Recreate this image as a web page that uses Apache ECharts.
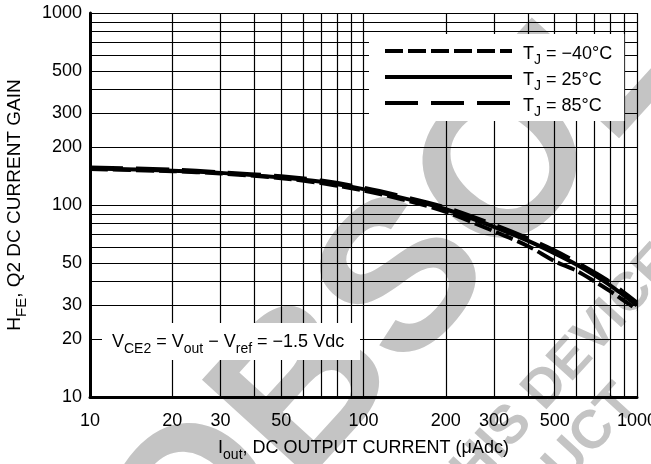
<!DOCTYPE html>
<html><head><meta charset="utf-8">
<script src="https://cdn.jsdelivr.net/npm/echarts@6/dist/echarts.min.js"></script>
<style>html,body{margin:0;padding:0;background:#fff}#c{width:651px;height:464px}</style>
</head><body><div id="c"></div>
<script>
// ---- data ----
const current = [10, 20, 30, 50, 70, 100, 150, 200, 300, 400, 500, 600, 700, 800, 1000];
const hfeM40 = [154, 150, 146, 138, 130, 119, 104, 92, 73, 61, 51, 45.5, 40, 35.5, 28.5];
const hfe25  = [155, 151, 147, 139, 132, 121, 106, 95, 77, 65, 56, 49, 43, 38, 30];
const hfe85  = [157, 153, 148, 141, 134, 123, 108, 97, 79, 67, 58, 50.5, 44.5, 39.5, 31];
const xGridValues = [10, 20, 30, 40, 50, 60, 70, 80, 90, 100, 200, 300, 400, 500, 600, 700, 800, 900, 1000];
const yGridValues = [10, 20, 30, 40, 50, 60, 70, 80, 90, 100, 200, 300, 400, 500, 600, 700, 800, 900, 1000];
const xTickLabels = [10, 20, 30, 50, 100, 200, 300, 500, 1000];
const yTickLabels = [10, 20, 30, 50, 100, 200, 300, 500, 1000];
const seriesNames = ['TJ = -40°C', 'TJ = 25°C', 'TJ = 85°C'];
const legendTexts = ['{f|T}{s|J}{a| = −40°C}', '{f|T}{s|J}{a| = 25°C}', '{f|T}{s|J}{a| = 85°C}'];

const FONT = "'Liberation Sans', Arial, Helvetica, sans-serif";
const toXY = (xs, ys) => xs.map((x, i) => [x, ys[i]]);

function gridLines(values, labels, axisKey, dist) {
  return values.map(v => {
    const item = {};
    item[axisKey] = v;
    const isLab = labels.indexOf(v) >= 0;
    item.label = isLab ? { show: true, position: 'start', distance: dist, color: '#000',
      fontSize: 18, fontFamily: FONT, formatter: String(v) } : { show: false };
    return item;
  });
}

const subRich = {
  a: { fontSize: 18, lineHeight: 18, fontFamily: FONT, color: '#000', verticalAlign: 'top' },
  s: { fontSize: 14, lineHeight: 14, fontFamily: FONT, color: '#000', padding: [9, 0, 0, 0], verticalAlign: 'top' }
};
const yRich = {
  a: { fontSize: 19, lineHeight: 19, fontFamily: FONT, color: '#000', verticalAlign: 'top' },
  s: { fontSize: 15, lineHeight: 15, fontFamily: FONT, color: '#000', padding: [9, 0, 0, 0], verticalAlign: 'top' }
};

const chart = echarts.init(document.getElementById('c'), null, { renderer: 'canvas' });
const markBase = { symbol: ['none', 'none'], silent: true, animation: false, precision: 0 };

chart.setOption({
  animation: false,
  backgroundColor: '#fff',
  grid: { left: 90, right: 14, top: 13, bottom: 67, containLabel: false, outerBoundsMode: 'none' },
  xAxis: {
    type: 'log', logBase: 10, min: 10, max: 1000,
    axisLine: { show: true, onZero: false, lineStyle: { color: '#000', width: 3 } },
    axisTick: { show: false }, axisLabel: { show: false }, splitLine: { show: false },
    name: '{a|I}{s|out}{a|, DC OUTPUT CURRENT (μAdc)}', nameLocation: 'middle', nameGap: 42,
    nameTextStyle: { rich: subRich }
  },
  yAxis: {
    type: 'log', logBase: 10, min: 10, max: 1000,
    axisLine: { show: true, onZero: false, lineStyle: { color: '#000', width: 3 } },
    axisTick: { show: false }, axisLabel: { show: false }, splitLine: { show: false },
    name: '{a|H}{s|FE}{a|, Q2 DC CURRENT GAIN}', nameLocation: 'middle', nameGap: 66, nameRotate: 90,
    nameTextStyle: { rich: yRich }
  },
  legend: {
    data: seriesNames, orient: 'vertical', left: 369, top: 34,
    backgroundColor: '#fff', padding: [8, 12, 2, 14], itemGap: 1,
    itemWidth: 127, itemHeight: 12, z: 20,
    itemStyle: { opacity: 0 },
    lineStyle: { width: 4 },
    formatter: name => legendTexts[seriesNames.indexOf(name)],
    textStyle: {
      rich: {
        f: { fontSize: 18, lineHeight: 18, fontFamily: FONT, color: '#000', padding: [3, 0, 0, 6], verticalAlign: 'top' },
        a: { fontSize: 18, lineHeight: 18, fontFamily: FONT, color: '#000', padding: [3, 0, 0, 0], verticalAlign: 'top' },
        s: { fontSize: 14, lineHeight: 14, fontFamily: FONT, color: '#000', padding: [11, 0, 0, 0], verticalAlign: 'top' }
      }
    }
  },
  graphic: [
    { type: 'text', x: 146, y: 571, rotation: 0.832, z: -1, silent: true,
      style: { text: 'OBSOLETE', fill: '#c4c4c4', font: 'bold 212px ' + FONT, align: 'left', verticalAlign: 'middle' } },
    { type: 'text', x: 440, y: 504, rotation: 0.832, z: -1, silent: true,
      style: { text: 'THIS DEVICE IS', fill: '#c4c4c4', font: 'bold 54px ' + FONT, align: 'left', verticalAlign: 'middle' } },
    { type: 'text', x: 449, y: 591, rotation: 0.832, z: -1, silent: true,
      style: { text: 'PRODUCT', fill: '#c4c4c4', font: 'bold 54px ' + FONT, align: 'left', verticalAlign: 'middle' } },
    { type: 'group', left: 102, top: 323, z: 50, children: [
      { type: 'rect', shape: { x: 0, y: 0, width: 258, height: 37 }, style: { fill: '#fff' }, z: 50 },
      { type: 'text', x: 10, y: 10, z: 51,
        style: { text: '{a|V}{s|CE2}{a| = V}{s|out}{a| − V}{s|ref}{a| = −1.5 Vdc}', rich: subRich, verticalAlign: 'top' } }
    ] }
  ],
  series: [
    { name: 'xgrid', type: 'line', data: [], silent: true,
      markLine: Object.assign({}, markBase, { data: gridLines(xGridValues, xTickLabels, 'xAxis', 15),
        lineStyle: { color: '#000', width: 1.2, type: 'solid' } }) },
    { name: 'ygrid', type: 'line', data: [], silent: true,
      markLine: Object.assign({}, markBase, { data: gridLines(yGridValues, yTickLabels, 'yAxis', 8),
        lineStyle: { color: '#000', width: 1.2, type: 'solid' } }) },
    { name: seriesNames[0], type: 'line', data: toXY(current, hfeM40), symbol: 'none', smooth: 0.3, z: 5,
      lineStyle: { color: '#000', width: 4, type: [18, 5] }, itemStyle: { color: '#000' } },
    { name: seriesNames[1], type: 'line', data: toXY(current, hfe25), symbol: 'none', smooth: 0.3, z: 5,
      lineStyle: { color: '#000', width: 4, type: 'solid' }, itemStyle: { color: '#000' } },
    { name: seriesNames[2], type: 'line', data: toXY(current, hfe85), symbol: 'none', smooth: 0.3, z: 5,
      lineStyle: { color: '#000', width: 4, type: [33, 13] }, itemStyle: { color: '#000' } }
  ]
});
</script></body></html>
